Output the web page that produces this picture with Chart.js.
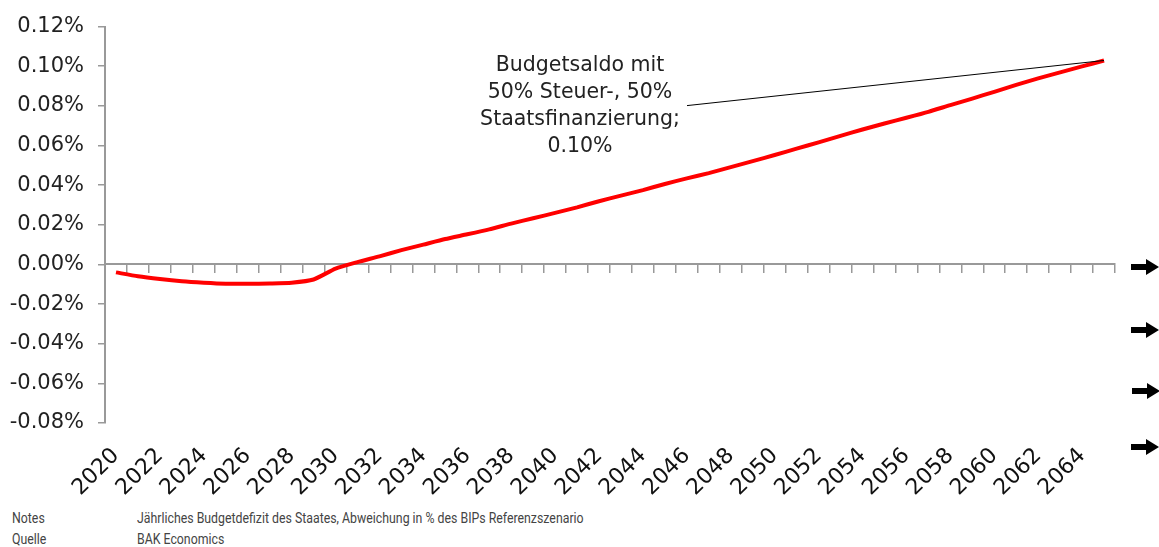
<!DOCTYPE html>
<html>
<head>
<meta charset="utf-8">
<script src="https://cdn.jsdelivr.net/npm/chart.js@4.4.1/dist/chart.umd.min.js"></script>
<style>
  body { margin: 0; background: #fff; width: 1159px; height: 547px; overflow: hidden; position: relative; }
  #wrap { position: absolute; left: 0; top: 0; width: 1159px; height: 500px; }
  .note { position: absolute; font: 14px Roboto, "Liberation Sans", sans-serif; color: #444; white-space: nowrap;
          transform: scaleX(0.88); transform-origin: left top; }
  .arrow { position: absolute; left: 1131px; }
</style>
</head>
<body>
<div id="wrap"><canvas id="saldo"></canvas></div>
<div class="note" style="left:12px;top:510px">Notes</div>
<div class="note" style="left:137px;top:510px">Jährliches Budgetdefizit des Staates, Abweichung in % des BIPs Referenzszenario</div>
<div class="note" style="left:12px;top:531px">Quelle</div>
<div class="note" style="left:137px;top:531px">BAK Economics</div>
<svg class="arrow" style="top:259px" width="28" height="16"><path d="M0 5h15V0l13 8-13 8v-5H0z" fill="#000"/></svg>
<svg class="arrow" style="top:322px" width="28" height="16"><path d="M0 5h15V0l13 8-13 8v-5H0z" fill="#000"/></svg>
<svg class="arrow" style="top:383px;left:1132px" width="28" height="16"><path d="M0 5h15V0l13 8-13 8v-5H0z" fill="#000"/></svg>
<svg class="arrow" style="top:439px" width="28" height="16"><path d="M0 5h15V0l13 8-13 8v-5H0z" fill="#000"/></svg>
<script>
// years on the category axis
const years = [
  "2020","2021","2022","2023","2024","2025","2026","2027","2028","2029",
  "2030","2031","2032","2033","2034","2035","2036","2037","2038","2039",
  "2040","2041","2042","2043","2044","2045","2046","2047","2048","2049",
  "2050","2051","2052","2053","2054","2055","2056","2057","2058","2059",
  "2060","2061","2062","2063","2064","2065"
];
// Budgetsaldo, % of GDP deviation from reference scenario
const saldo = [
  -0.0040, -0.0060, -0.0074, -0.0085, -0.0092, -0.0097, -0.0098, -0.0096, -0.0092, -0.0076,
  -0.0021, 0.0012, 0.0041, 0.0072, 0.0100, 0.0128, 0.0152, 0.0177, 0.0206, 0.0233,
  0.0260, 0.0288, 0.0319, 0.0347, 0.0375, 0.0406, 0.0434, 0.0461, 0.0491, 0.0521,
  0.0552, 0.0584, 0.0616, 0.0649, 0.0681, 0.0711, 0.0740, 0.0770, 0.0804, 0.0837,
  0.0871, 0.0906, 0.0939, 0.0969, 0.0999, 0.1029
];
const yMin = -0.08;
const yMax = 0.12;
const yStep = 0.02;
const noteLines = ["Budgetsaldo mit", "50% Steuer-, 50%", "Staatsfinanzierung;", "0.10%"];

const axisGrey = "#999";

// text label with leader line to the last point
const calloutPlugin = {
  id: "callout",
  afterDatasetsDraw(chart) {
    const ctx = chart.ctx;
    const area = chart.chartArea;
    const meta = chart.getDatasetMeta(0);
    const last = meta.data[meta.data.length - 1];
    ctx.save();
    ctx.strokeStyle = "#000";
    ctx.lineWidth = 1;
    ctx.beginPath();
    ctx.moveTo(area.left + 582, area.top + 79);
    ctx.lineTo(last.x, last.y);
    ctx.stroke();
    ctx.fillStyle = "#222";
    ctx.font = "20.5px 'DejaVu Sans', sans-serif";
    ctx.textAlign = "center";
    ctx.textBaseline = "middle";
    noteLines.forEach((t, i) => {
      ctx.fillText(t, area.left + 475, area.top + 39 + i * 27);
    });
    ctx.restore();
  }
};

showChart_saldo();
function showChart_saldo() {
  const ctx = document.getElementById("saldo");
  new Chart(ctx, {
    type: "line",
    data: {
      labels: years,
      datasets: [
        {
          label: "Budgetsaldo",
          data: saldo,
          borderColor: "#ff0000",
          borderWidth: 4,
          pointRadius: 0,
          tension: 0.2,
          fill: false,
        },
      ],
    },
    options: {
      responsive: true,
      maintainAspectRatio: false,
      animation: false,
      layout: { padding: { left: 10, right: 44, top: 24, bottom: 0 } },
      plugins: {
        legend: { display: false },
        tooltip: { enabled: false },
      },
      scales: {
        x: {
          type: "category",
          offset: true,
          position: "bottom",
          grid: { display: false },
          border: { display: false },
          ticks: {
            autoSkip: false,
            minRotation: 45,
            maxRotation: 45,
            padding: 12,
            color: "#111",
            font: { family: "'DejaVu Sans', sans-serif", size: 22 },
            callback: (v, i) => (i % 2 === 0 ? years[i] : ""),
          },
          afterFit: (s) => { s.height = 77; },
        },
        x0: {
          type: "category",
          axis: "x",
          offset: true,
          position: { y: 0 },
          grid: { offset: true, drawOnChartArea: false, drawTicks: true, tickLength: 8, color: axisGrey, lineWidth: 1.5 },
          border: { color: axisGrey, width: 2 },
          ticks: { display: false },
        },
        y: {
          min: yMin,
          max: yMax,
          grid: { drawOnChartArea: false, tickLength: 7, color: axisGrey, lineWidth: 1.5 },
          border: { color: axisGrey, width: 2 },
          ticks: {
            stepSize: yStep,
            padding: 14,
            color: "#222",
            font: { family: "'DejaVu Sans', sans-serif", size: 21 },
            callback: (v) => v.toFixed(2) + "%",
          },
          afterFit: (s) => { s.width = 95; },
        },
      },
    },
    plugins: [calloutPlugin],
  });
}
</script>
</body>
</html>
